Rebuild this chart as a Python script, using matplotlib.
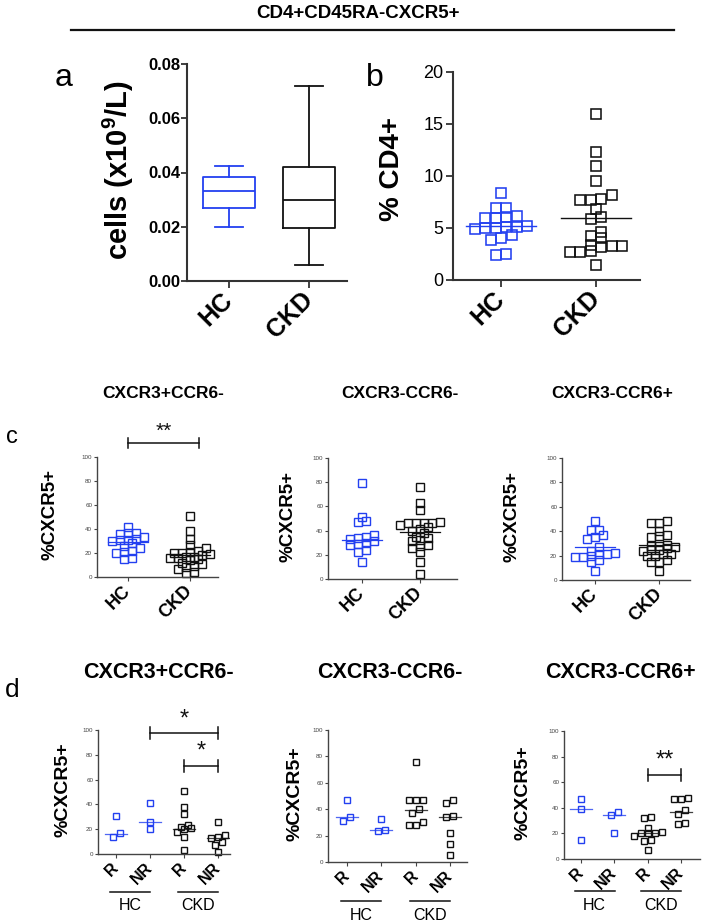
import numpy as np
import matplotlib
matplotlib.use('Agg')
import matplotlib.pyplot as plt
from matplotlib import font_manager as fm
from matplotlib.lines import Line2D
from matplotlib.transforms import blended_transform_factory

W, H = 702, 923

# ---------------- data ----------------
main_title = "CD4+CD45RA-CXCR5+"
groups = ["HC", "CKD"]

# panel a (box plot statistics)
a_whislo = [0.020, 0.006]
a_q1 = [0.027, 0.0195]
a_med = [0.033, 0.030]
a_q3 = [0.0385, 0.042]
a_whishi = [0.0425, 0.072]
a_yticks = [0.00, 0.02, 0.04, 0.06, 0.08]

# panel b (% CD4+)
b_hc = [8.4, 6.9, 6.9, 6.0, 6.0, 6.1, 6.2, 4.9, 5.0, 5.0, 5.1, 5.1, 5.2, 4.3, 4.0, 3.8, 2.4, 2.5]
b_ckd = [16.0, 12.3, 11.0, 9.5, 8.2, 7.7, 7.65, 7.8, 6.85, 5.9, 6.05, 4.6, 4.25, 4.0,
         3.4, 3.3, 3.3, 3.2, 2.8, 2.7, 2.7, 1.4]
b_lines = [5.2, 6.0]
b_yticks = [0, 5, 10, 15, 20]

# panel c (%CXCR5+)
c_titles = ["CXCR3+CCR6-", "CXCR3-CCR6-", "CXCR3-CCR6+"]
c_hc = [
    [42, 37, 37, 36, 33, 32, 31, 31, 30, 28, 26, 24, 22, 21, 20, 16, 15],
    [79, 51, 48, 47, 36, 35, 34, 33, 31, 30, 29, 28, 24, 22, 14],
    [48, 41, 41, 37, 35, 34, 27, 24, 22, 21, 21, 20, 19, 19, 16, 15, 7],
]
c_ckd = [
    [51, 38, 32, 27, 24, 22, 21, 20, 20, 19, 18, 17, 17, 16, 16, 15, 14, 12, 11, 9, 8, 7, 4, 3],
    [76, 63, 57, 47, 46, 46, 46, 46, 45, 43, 41, 40, 38, 35, 34, 32, 31, 28, 27, 26, 22, 14, 4],
    [48, 47, 47, 40, 37, 36, 35, 29, 28, 28, 27, 26, 25, 25, 24, 21, 21, 20, 20, 16, 15, 15, 7],
]
c_lines = [[29.5, 18], [32, 39], [27, 29]]
c_yticks = [0, 20, 40, 60, 80, 100]
c_sig = [("**", 1.0, 2.15, 112)]  # label, x-from, x-to, y (panel c1)

# panel d (%CXCR5+, responders / non-responders)
d_xlabels = ["R", "NR", "R", "NR"]
d_groups = [
    [[31, 17, 14], [41, 26, 20], [51, 38, 32, 23, 22, 21, 20, 18, 14, 3], [26, 15, 14, 13, 10, 7, 2]],
    [[47, 34, 31], [32.5, 24.5, 23.5], [76, 47, 47, 47, 40, 37, 30, 28, 28], [47, 45, 35, 34, 22, 14, 5]],
    [[47, 39, 15], [36.5, 34, 20], [33, 32, 24, 21, 20, 20, 20, 18, 15, 14, 7], [48, 47, 47, 38, 35, 28, 27]],
]
d_lines = [[16.5, 26, 20, 13], [34, 24, 39.5, 34], [39, 34, 20, 37]]
d_sig = [
    [("*", 2, 4, 97.5), ("*", 3, 4, 71)],
    [],
    [("**", 3, 4, 66)],
]

# ---------------- style ----------------
def has_font(name):
    try:
        fm.findfont(fm.FontProperties(family=name), fallback_to_default=False)
        return True
    except Exception:
        return False

SANS = 'Liberation Sans' if has_font('Liberation Sans') else 'DejaVu Sans'
NARROW = 'Liberation Sans Narrow' if has_font('Liberation Sans Narrow') else SANS
plt.rcParams['font.family'] = [SANS, 'DejaVu Sans']
plt.rcParams['mathtext.default'] = 'regular'
plt.rcParams['mathtext.fontset'] = 'dejavusans'

BLUE = '#2340f0'
BLACK = '#111111'
AXC = '#333333'

fig = plt.figure(figsize=(W / 100, H / 100), dpi=100)


def px_axes(x0, y0, x1, y1):
    return fig.add_axes([x0 / W, 1 - y1 / H, (x1 - x0) / W, (y1 - y0) / H])


def ftext(x, y, s, **kw):
    return fig.text(x / W, 1 - y / H, s, **kw)


def swarm_x(vals, center, ppx, ppy, size, hfrac):
    """Row-binned scatter (GraphPad style): nearby values share a row, spread symmetrically."""
    vals = np.asarray(vals, float)
    order = np.argsort(vals)
    xs = np.zeros(len(vals))
    bins, cur, start = [], [], None
    for i in order:
        y = vals[i] * ppy
        if start is None or y - start > hfrac * size:
            if cur:
                bins.append(cur)
            cur, start = [i], y
        else:
            cur.append(i)
    if cur:
        bins.append(cur)
    for b in bins:
        n = len(b)
        for j, i in enumerate(b):
            xs[i] = center + (j - (n - 1) / 2) * size / ppx
    return xs


def style_axes(ax, lw, color=AXC):
    for s in ('top', 'right'):
        ax.spines[s].set_visible(False)
    for s in ('left', 'bottom'):
        ax.spines[s].set_linewidth(lw)
        ax.spines[s].set_color(color)


def sig_bar(ax, label, x0, x1, y, cap_px, fs, text_gap_px):
    ax.plot([x0, x1], [y, y], color=BLACK, lw=1.1, clip_on=False)
    y_per_px = (ax.get_ylim()[1] - ax.get_ylim()[0]) / (ax.get_position().height * H)
    for xx in (x0, x1):
        ax.plot([xx, xx], [y - cap_px * y_per_px, y + cap_px * y_per_px], color=BLACK, lw=1.1, clip_on=False)
    ax.text((x0 + x1) / 2, y + text_gap_px * y_per_px, label, ha='center', va='bottom',
            fontsize=fs, color=BLACK, clip_on=False)


# ---------------- header ----------------
ftext(358, 14, main_title, ha='center', va='center', fontsize=13.5, fontweight='bold', family=[NARROW, 'DejaVu Sans'])
fig.add_artist(Line2D([71 / W, 674 / W], [1 - 30 / H, 1 - 30 / H], transform=fig.transFigure,
                      color=BLACK, lw=1.6))

# ---------------- panel a ----------------
axa = px_axes(187, 64, 347, 281)
stats = [dict(whislo=a_whislo[i], q1=a_q1[i], med=a_med[i], q3=a_q3[i], whishi=a_whishi[i],
              label=groups[i]) for i in range(2)]
bp = axa.bxp(stats, positions=[1, 2], widths=0.66, capwidths=0.35, showfliers=False)
for i, col in enumerate([BLUE, BLACK]):
    bp['boxes'][i].set(color=col, lw=1.3)
    bp['medians'][i].set(color=col, lw=1.3)
    for el in bp['whiskers'][2 * i:2 * i + 2] + bp['caps'][2 * i:2 * i + 2]:
        el.set(color=col, lw=1.3)
axa.set_xlim(0.475, 2.475)
axa.set_ylim(0, 0.08)
axa.set_yticks(a_yticks)
axa.set_yticklabels([f"{v:.2f}" for v in a_yticks], fontsize=12, fontweight='bold')
axa.set_xticks([1, 2])
axa.set_xticklabels(groups, rotation=45, ha='right', va='center', rotation_mode='anchor',
                    fontsize=18, fontweight='bold')
style_axes(axa, 1.5)
axa.tick_params(axis='y', length=4, width=1.3, pad=1, color=AXC)
axa.tick_params(axis='x', length=5, width=1.3, pad=6, color=AXC)
ftext(118, 170, "cells (x10$^{9}$/L)", rotation=90, ha='center', va='center', fontsize=21, fontweight='bold')
ftext(64, 78, "a", ha='center', va='center', fontsize=23)

# ---------------- panel b ----------------
axb = px_axes(453, 72, 640, 280)
axb.set_xlim(0.495, 2.46)
axb.set_ylim(0, 20)
ppx_b = (640 - 453) / (2.46 - 0.495)
ppy_b = (280 - 72) / 20.0
for i, (vals, col) in enumerate([(b_hc, BLUE), (b_ckd, BLACK)]):
    xs = swarm_x(vals, i + 1, ppx_b, ppy_b, 10.5, 0.6)
    axb.plot(xs, vals, 's', ms=6.8, mfc='none', mec=col, mew=1.15, clip_on=False)
    hw = 35 / ppx_b
    axb.plot([i + 1 - hw, i + 1 + hw], [b_lines[i]] * 2, color=col, lw=1.0)
axb.set_yticks(b_yticks)
axb.set_yticklabels([str(v) for v in b_yticks], fontsize=13)
axb.set_xticks([1, 2])
axb.set_xticklabels(groups, rotation=45, ha='right', va='center', rotation_mode='anchor',
                    fontsize=18, fontweight='bold')
style_axes(axb, 1.5)
axb.tick_params(axis='y', length=5, width=1.3, pad=2, color=AXC)
axb.tick_params(axis='x', length=5, width=1.3, pad=6, color=AXC)
ftext(392, 169, "% CD4+", rotation=90, ha='center', va='center', fontsize=20, fontweight='bold')
ftext(375, 78, "b", ha='center', va='center', fontsize=23)

# ---------------- panel c ----------------
c_boxes = [(97, 457, 218, 577), (328, 458, 457, 579), (562, 458, 690, 580)]
c_xlims = [(0.5, 2.45), (0.41, 2.64), (0.48, 2.48)]
c_title_x = [163, 400, 612]
c_ylab_x = [50, 288, 512]
for k in range(3):
    x0, y0, x1, y1 = c_boxes[k]
    ax = px_axes(x0, y0, x1, y1)
    ax.set_xlim(*c_xlims[k])
    ax.set_ylim(0, 100)
    ppx = (x1 - x0) / (c_xlims[k][1] - c_xlims[k][0])
    ppy = (y1 - y0) / 100.0
    for i, (vals, col) in enumerate([(c_hc[k], BLUE), (c_ckd[k], BLACK)]):
        xs = swarm_x(vals, i + 1, ppx, ppy, 8.0, 0.6)
        ax.plot(xs, vals, 's', ms=5.3, mfc='none', mec=col, mew=1.0, clip_on=False)
        hw = 20 / ppx
        ax.plot([i + 1 - hw, i + 1 + hw], [c_lines[k][i]] * 2, color=col, lw=0.9)
    ax.set_yticks(c_yticks)
    ax.set_yticklabels([str(v) for v in c_yticks], fontsize=4.5, color='#444444')
    ax.set_xticks([1, 2])
    ax.set_xticklabels(groups, rotation=45, ha='right', va='center', rotation_mode='anchor',
                       fontsize=13, fontweight='bold')
    style_axes(ax, 1.0, '#444444')
    ax.tick_params(axis='y', length=2.5, width=0.8, pad=1, color='#444444')
    ax.tick_params(axis='x', length=3, width=0.8, pad=5, color='#444444')
    ftext(c_title_x[k], 393, c_titles[k], ha='center', va='center', fontsize=12.5, fontweight='bold',
          family=[NARROW, 'DejaVu Sans'])
    ftext(c_ylab_x[k], (y0 + y1) / 2 - 2, "%CXCR5+", rotation=90, ha='center', va='center',
          fontsize=13.5, fontweight='bold')
    if k == 0:
        for lab, xa, xb, yv in c_sig:
            sig_bar(ax, lab, xa, xb, yv, 5, 15, 2)
ftext(12, 437, "c", ha='center', va='center', fontsize=17)

# ---------------- panel d ----------------
d_boxes = [(98, 730, 230, 854), (328, 730, 467, 862), (564, 731, 700, 859)]
d_xlims = [(0.47, 4.35), (0.45, 4.5), (0.49, 4.57)]
d_title_x = [158, 390, 620]
d_ylab_x = [63, 295, 523]
d_group_line_y = [892, 901, 891]
d_colors = [BLUE, BLUE, BLACK, BLACK]
for k in range(3):
    x0, y0, x1, y1 = d_boxes[k]
    ax = px_axes(x0, y0, x1, y1)
    ax.set_xlim(*d_xlims[k])
    ax.set_ylim(0, 100)
    ppx = (x1 - x0) / (d_xlims[k][1] - d_xlims[k][0])
    ppy = (y1 - y0) / 100.0
    for i, vals in enumerate(d_groups[k]):
        xs = swarm_x(vals, i + 1, ppx, ppy, 7.0, 0.7)
        ax.plot(xs, vals, 's', ms=4.3, mfc='none', mec=d_colors[i], mew=1.0, clip_on=False)
        hw = 11 / ppx
        ax.plot([i + 1 - hw, i + 1 + hw], [d_lines[k][i]] * 2, color=d_colors[i], lw=0.9, alpha=0.8)
    ax.set_yticks(c_yticks)
    ax.set_yticklabels([str(v) for v in c_yticks], fontsize=4.5, color='#444444')
    ax.set_xticks([1, 2, 3, 4])
    ax.set_xticklabels(d_xlabels, rotation=45, ha='right', va='center', rotation_mode='anchor',
                       fontsize=11.5, fontweight='bold')
    style_axes(ax, 1.0, '#444444')
    ax.tick_params(axis='y', length=2.5, width=0.8, pad=1, color='#444444')
    ax.tick_params(axis='x', length=3, width=0.8, pad=5, color='#444444')
    ftext(d_title_x[k], 672, c_titles[k], ha='center', va='center', fontsize=15.5, fontweight='bold',
          family=[NARROW, 'DejaVu Sans'])
    ftext(d_ylab_x[k], (y0 + y1) / 2 - 2, "%CXCR5+", rotation=90, ha='center', va='center',
          fontsize=14, fontweight='bold')
    for lab, xa, xb, yv in d_sig[k]:
        sig_bar(ax, lab, xa, xb, yv, 6, 17, 3)
    tr = blended_transform_factory(ax.transData, fig.transFigure)
    gy = d_group_line_y[k]
    half = 20 / ppx
    for gi, (pa, pb) in enumerate([(1, 2), (3, 4)]):
        mid = (pa + pb) / 2 - 3 / ppx
        fig.add_artist(Line2D([mid - half, mid + half], [1 - gy / H] * 2, transform=tr, color=BLACK, lw=1.1))
        fig.text(mid, 1 - (gy + 14) / H, groups[gi], transform=tr, ha='center', va='center',
                 fontsize=11.5, family=[NARROW, 'DejaVu Sans'])
ftext(12, 690, "d", ha='center', va='center', fontsize=19)

fig.savefig('out.png', dpi=100)
